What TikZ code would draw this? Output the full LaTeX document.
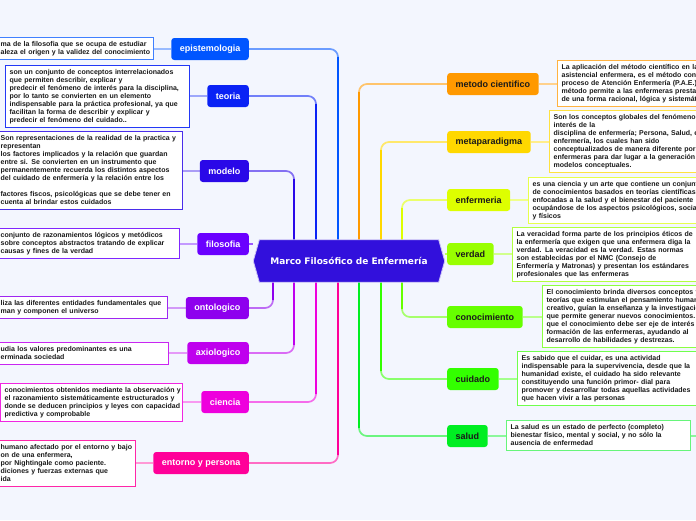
\documentclass[tikz,border=0pt]{standalone}
\usepackage{fontspec}
\setmainfont{Liberation Sans}
\newfontfamily\cfont{DejaVu Sans}
\usetikzlibrary{calc}
\pgfdeclarelayer{back}
\pgfdeclarelayer{lines}
\pgfdeclarelayer{hexbg}
\pgfsetlayers{back,lines,hexbg,main}
\definecolor{bgc}{HTML}{F3F6FE}
\definecolor{cc}{HTML}{3210DC}
\definecolor{cEpi}{HTML}{0055FF}
\definecolor{cTeo}{HTML}{0A22F5}
\definecolor{cMod}{HTML}{2A08E8}
\definecolor{cFil}{HTML}{6A00FF}
\definecolor{cOnt}{HTML}{8E00EE}
\definecolor{cAxi}{HTML}{BF00EE}
\definecolor{cCie}{HTML}{EE00DD}
\definecolor{cEnt}{HTML}{FF0099}
\definecolor{cMet}{HTML}{FF9900}
\definecolor{cMpa}{HTML}{FFD800}
\definecolor{cEnf}{HTML}{DDFF00}
\definecolor{cVer}{HTML}{99FF00}
\definecolor{cCon}{HTML}{66FF00}
\definecolor{cCui}{HTML}{33FF00}
\definecolor{cSal}{HTML}{00EE22}
\definecolor{txt}{HTML}{1A1A1A}
\newcommand\dtext[1]{\begin{tabular}{@{}l@{}}#1\end{tabular}}
\tikzset{
 topic/.style={rounded corners=3pt, inner xsep=8.5pt, inner ysep=0pt, minimum height=22pt,
   font=\bfseries\fontsize{9}{10}\selectfont, fill=#1},
 ltopic/.style={topic=#1, text=white, anchor=east},
 rtopic/.style={topic=#1, text=txt, anchor=west},
 desc/.style={draw=#1, fill=white, line width=1.3pt, align=left, anchor=north west,
   inner xsep=4pt, inner ysep=3pt, font=\bfseries\fontsize{7}{8}\selectfont, text=txt},
 conn/.style={line width=1.7pt, rounded corners=8pt},
 link/.style={line width=1.3pt},
}
\newcommand\upbr[4]{%
 \draw[conn,#1!58!white] ($(cent.north)+(#2,0)$) |- (#3.#4);
 \draw[conn,#1] ($(cent.north)+(#2,0)$) -- ($(cent.north |- #3.#4)+(#2,8)$);}
\newcommand\dnbr[4]{%
 \draw[conn,#1!58!white] ($(cent.south)+(#2,0)$) |- (#3.#4);
 \draw[conn,#1] ($(cent.south)+(#2,0)$) -- ($(cent.south |- #3.#4)+(#2,-8)$);}
\begin{document}
\begin{tikzpicture}[x=1pt,y=-1pt]
\useasboundingbox (0,0) rectangle (696,520);
\begin{pgfonlayer}{back}
\fill[bgc] (0,0) rectangle (696,520);
\end{pgfonlayer}

% central node
\node[minimum width=191pt, minimum height=42pt, inner sep=0pt, text=white,
  font=\cfont\bfseries\fontsize{9}{11}\selectfont] (cent) at (349,261) {Marco Filosófico de Enfermería};
\begin{pgfonlayer}{hexbg}
\filldraw[fill=cc, draw=white!75!cc, line width=0.8pt] (cent.west) -- ([xshift=6pt]cent.north west) -- ([xshift=-6pt]cent.north east)
  -- (cent.east) -- ([xshift=-6pt]cent.south east) -- ([xshift=6pt]cent.south west) -- cycle;
\end{pgfonlayer}

% left topics
\node[ltopic=cEpi] (epi) at (249,49) {epistemologia};
\node[ltopic=cTeo] (teo) at (249,96) {teoria};
\node[ltopic=cMod] (mod) at (249,171) {modelo};
\node[ltopic=cFil] (fil) at (249,244) {filosofia};
\node[ltopic=cOnt] (ont) at (249,308) {ontologico};
\node[ltopic=cAxi] (axi) at (249,353) {axiologico};
\node[ltopic=cCie] (cie) at (249,402) {ciencia};
\node[ltopic=cEnt] (ent) at (249,463) {entorno y persona};
% right topics
\node[rtopic=cMet] (met) at (447,84) {metodo cientifico};
\node[rtopic=cMpa] (mpa) at (447,142) {metaparadigma};
\node[rtopic=cEnf] (enf) at (447,200) {enfermeria};
\node[rtopic=cVer] (ver) at (447,254) {verdad};
\node[rtopic=cCon] (con) at (447,317) {conocimiento};
\node[rtopic=cCui] (cui) at (447,379) {cuidado};
\node[rtopic=cSal] (sal) at (447,436) {salud};

% left descriptions
\node[desc=cEpi!75!white, text width=149pt] (epiD) at (-4,37) {\dtext{ma de la  filosofia que se ocupa de estudiar\\aleza  el origen y la validez del conocimiento}};
\node[desc=cTeo!90!white, text width=176pt] (teoD) at (5,65) {\dtext{son un conjunto de conceptos interrelacionados\\que permiten describir, explicar y\\predecir el fenómeno de interés para la disciplina,\\por lo tanto se convierten en un elemento\\indispensable para la práctica profesional, ya que\\facilitan la forma de describir y explicar y\\predecir el fenómeno del cuidado..}};
\node[desc=cMod!85!white, text width=178pt] (modD) at (-4,131) {\dtext{Son representaciones de la realidad de la practica y\\representan\\los factores implicados y la relación que guardan\\entre si. Se convierten en un instrumento que\\permanentemente recuerda los distintos aspectos\\del cuidado de enfermería y la relación entre los\\ \\factores fiscos, psicológicas que se debe tener en\\cuenta al brindar estos cuidados}};
\node[desc=cFil!85!white, text width=175pt] (filD) at (-4,228) {\dtext{conjunto de razonamientos lógicos y metódicos\\sobre conceptos abstractos tratando de explicar\\causas y fines de la verdad}};
\node[desc=cOnt!85!white, text width=163pt] (ontD) at (-4,296) {\dtext{liza las diferentes entidades fundamentales  que\\man y componen el universo}};
\node[desc=cAxi!85!white, text width=164pt] (axiD) at (-4,342) {\dtext{udia los valores predominantes es una\\erminada sociedad}};
\node[desc=cCie!85!white, text width=174pt] (cieD) at (0,383) {\dtext{conocimientos obtenidos mediante la observación y\\el razonamiento sistemáticamente estructurados y\\donde se deducen principios y leyes con  capacidad\\predictiva y comprobable}};
\node[desc=cEnt!85!white, text width=131pt] (entD) at (-4,440) {\dtext{humano afectado por el entorno y bajo\\on de una enfermera,\\por Nightingale como paciente.\\diciones y fuerzas externas que\\ida}};

% right descriptions
\node[desc=cMet!75!white, text width=200pt] (metD) at (557,60) {\dtext{La aplicación del método científico en la\\asistencial enfermera, es el método cono\\proceso de Atención Enfermería (P.A.E.)\\método permite a las enfermeras prestar\\de una forma racional, lógica y sistemát}};
\node[desc=cMpa!75!white, text width=200pt] (mpaD) at (549,110) {\dtext{Son los conceptos globales del fenómeno d\\interés de la\\ disciplina de enfermería; Persona, Salud, e\\enfermería, los cuales han sido\\conceptualizados de manera diferente por\\enfermeras para dar lugar a la generación d\\modelos conceptuales.}};
\node[desc=cEnf!70!white, text width=200pt] (enfD) at (528,177) {\dtext{es una ciencia y un arte que contiene un conjunto\\de conocimientos basados  en teorías científicas\\enfocadas a la salud y el bienestar del paciente\\ocupándose de los aspectos psicológicos, social\\y físicos}};
\node[desc=cVer!75!white, text width=176pt] (verD) at (512,227) {\dtext{La veracidad forma parte de los principios éticos de\\la enfermería que exigen que una enfermera diga la\\verdad. La veracidad es la verdad. Estas normas\\son establecidas por el NMC (Consejo de\\Enfermería y Matronas) y presentan los estándares\\profesionales que las enfermeras}};
\node[desc=cCon!75!white, text width=200pt] (conD) at (542,285) {\dtext{El conocimiento brinda diversos conceptos y\\teorías que estimulan el pensamiento humano\\creativo, guían la enseñanza y la investigación\\que permite generar nuevos conocimientos. E\\que el conocimiento debe ser eje de interés e\\formación de las enfermeras, ayudando al\\desarrollo de habilidades y destrezas.}};
\node[desc=cCui!70!white, text width=200pt] (cuiD) at (517,351) {\dtext{Es sabido que el cuidar, es una actividad\\indispensable para la supervivencia, desde que la\\humanidad existe, el cuidado ha sido relevante\\constituyendo una función primor- dial para\\promover y desarrollar todas aquellas actividades\\que hacen vivir a las personas}};
\node[desc=cSal!60!white, text width=176pt] (salD) at (506,420) {\dtext{La salud es un estado de perfecto (completo)\\bienestar físico, mental y social, y no sólo la\\ausencia de enfermedad}};
\coordinate (offR) at (700,436);

\begin{pgfonlayer}{lines}
% branches from the centre
\upbr{cEpi}{-11}{epi}{east}
\upbr{cTeo}{-33}{teo}{east}
\upbr{cMod}{-55}{mod}{east}
\upbr{cMet}{10}{met}{west}
\upbr{cMpa}{32}{mpa}{west}
\upbr{cEnf}{53}{enf}{west}
\dnbr{cOnt}{-76}{ont}{east}
\dnbr{cAxi}{-55}{axi}{east}
\dnbr{cCie}{-33}{cie}{east}
\dnbr{cEnt}{-11}{ent}{east}
\dnbr{cSal}{10}{sal}{west}
\dnbr{cCui}{32}{cui}{west}
\dnbr{cCon}{53}{con}{west}
\draw[conn,cFil!65!white] (fil.east) -- (fil.east -| cent.west);
\draw[conn,cVer!65!white] (cent.east |- ver.west) -- (ver.west);
% links to descriptions
\draw[link,cEpi!40!white] (epiD.east |- epi.west) -- (epi.west);
\draw[link,cTeo!40!white] (teoD.east |- teo.west) -- (teo.west);
\draw[link,cMod!40!white] (modD.east |- mod.west) -- (mod.west);
\draw[link,cFil!40!white] (filD.east |- fil.west) -- (fil.west);
\draw[link,cOnt!40!white] (ontD.east |- ont.west) -- (ont.west);
\draw[link,cAxi!40!white] (axiD.east |- axi.west) -- (axi.west);
\draw[link,cCie!40!white] (cieD.east |- cie.west) -- (cie.west);
\draw[link,cEnt!40!white] (entD.east |- ent.west) -- (ent.west);
\draw[link,cMet!45!white] (met.east) -- (met.east -| metD.west);
\draw[link,cMpa!45!white] (mpa.east) -- (mpa.east -| mpaD.west);
\draw[link,cEnf!45!white] (enf.east) -- (enf.east -| enfD.west);
\draw[link,cVer!45!white] (ver.east) -- (ver.east -| verD.west);
\draw[link,cCon!45!white] (con.east) -- (con.east -| conD.west);
\draw[link,cCui!45!white] (cui.east) -- (cui.east -| cuiD.west);
\draw[link,cSal!45!white] (sal.east) -- (sal.east -| salD.west);
\draw[link,cSal!45!white] (salD.east |- sal.east) -- (offR);
\end{pgfonlayer}
\end{tikzpicture}
\end{document}
